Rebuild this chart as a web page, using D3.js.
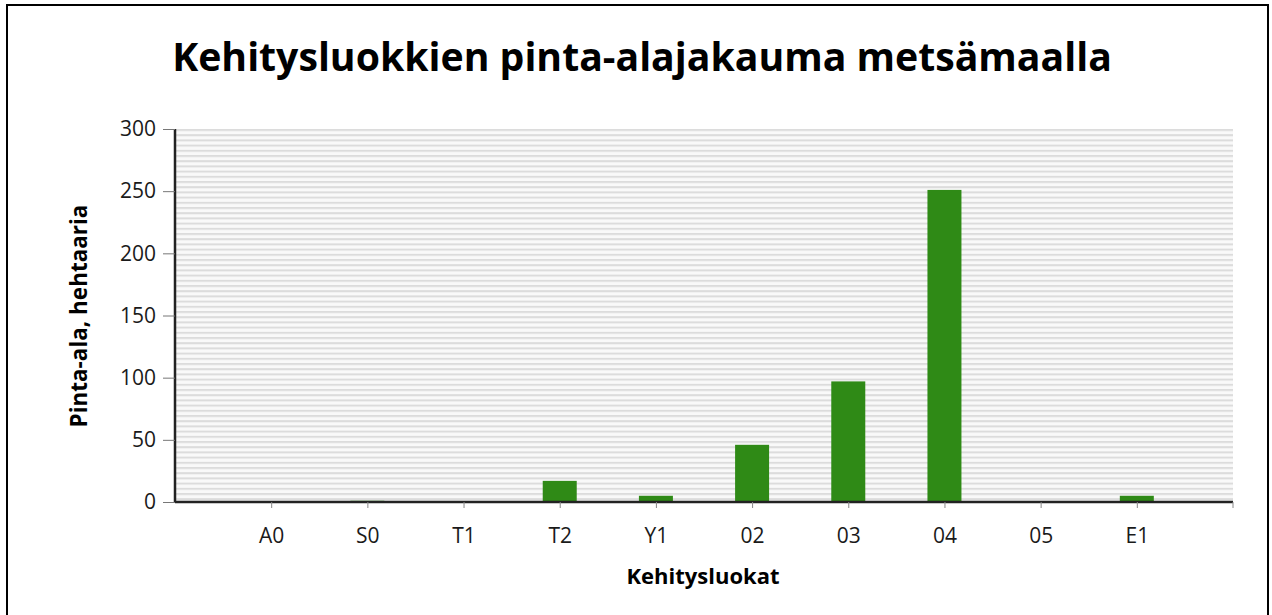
<!DOCTYPE html>
<html><head><meta charset="utf-8">
<script src="https://cdn.jsdelivr.net/npm/d3@7"></script>
<style>body{margin:0;background:#fff;}svg{display:block;}</style>
</head><body>
<script>
const categories = ["A0","S0","T1","T2","Y1","02","03","04","05","E1"];
const values = [0, 1, 0, 17, 5, 46, 97, 251, 0, 5];
const yTicks = [0, 50, 100, 150, 200, 250, 300];
const titleText = "Kehitysluokkien pinta-alajakauma metsämaalla";
const xTitle = "Kehitysluokat";
const yTitle = "Pinta-ala, hehtaaria";

(function(){
const W = 1272, H = 615;
const pLeft = 175, pRight = 1233, pTop = 129, pBottom = 502;
const font = "'Open Sans', 'DejaVu Sans', sans-serif";

const svg = d3.select("body").append("svg").attr("width", W).attr("height", H);

const defs = svg.append("defs");
const pat = defs.append("pattern").attr("id","stripes").attr("patternUnits","userSpaceOnUse")
  .attr("width", 10).attr("height", 5.2).attr("y", pTop);
pat.append("rect").attr("width",10).attr("height",5.2).attr("fill","#f9f9f9");
pat.append("rect").attr("y",0).attr("width",10).attr("height",2).attr("fill","#dcdcdc");

svg.append("rect").attr("x",7).attr("y",5).attr("width",1261).attr("height",620)
  .attr("fill","none").attr("stroke","#000").attr("stroke-width",2);

const x = d3.scalePoint().domain(categories).range([pLeft, pRight]).padding(1);
const y = d3.scaleLinear().domain([0, 300]).range([pBottom, pTop]);

svg.append("rect").attr("x", pLeft).attr("y", pTop).attr("width", pRight-pLeft).attr("height", pBottom-pTop)
  .attr("fill","url(#stripes)");

const barW = 34;
svg.append("g").selectAll("rect").data(categories).join("rect")
  .attr("x", d => x(d) - barW/2)
  .attr("y", (d,i) => y(values[i]))
  .attr("width", barW)
  .attr("height", (d,i) => y(0) - y(values[i]))
  .attr("fill", "#2f8a16");

// Y axis
const yAxis = svg.append("g").attr("transform", `translate(${pLeft},0)`)
  .call(d3.axisLeft(y).tickValues(yTicks).tickSize(12).tickPadding(7));
yAxis.select(".domain").attr("stroke","#222").attr("stroke-width",2.5).attr("d", `M0,${pTop}V${pBottom}`);
yAxis.selectAll(".tick line").attr("stroke","#777").attr("stroke-width",1);
yAxis.selectAll(".tick text").attr("font-family", font).attr("font-size", 21).attr("fill","#1a1a1a");

// X axis
const xAxis = svg.append("g").attr("transform", `translate(0,${pBottom})`)
  .call(d3.axisBottom(x).tickSize(6).tickPadding(20));
xAxis.select(".domain").attr("stroke","#222").attr("stroke-width",2.5).attr("d", `M${pLeft},0H${pRight}`);
xAxis.selectAll(".tick line").attr("stroke","#888");
xAxis.selectAll(".tick text").attr("font-family", font).attr("font-size", 21).attr("fill","#1a1a1a");
xAxis.append("line").attr("x1", pRight).attr("x2", pRight).attr("y1", 0).attr("y2", 6).attr("stroke","#888");

// Title
const t = svg.append("text").attr("x", 642).attr("y", 71).attr("text-anchor","middle")
  .attr("font-family", font).attr("font-weight","bold").attr("font-size", 38).attr("fill","#000")
  .text(titleText);
const tw = t.node().getComputedTextLength();
t.attr("font-size", 38 * 940 / tw);

// Axis titles
const xt = svg.append("text").attr("x", 703).attr("y", 584).attr("text-anchor","middle")
  .attr("font-family", font).attr("font-weight","bold").attr("font-size", 18).attr("fill","#000")
  .text(xTitle);
const xtw = xt.node().getComputedTextLength();
xt.attr("font-size", 18 * 153 / xtw);

const yt = svg.append("text").attr("transform", "translate(87,316) rotate(-90)").attr("text-anchor","middle")
  .attr("font-family", font).attr("font-weight","bold").attr("font-size", 18).attr("fill","#000")
  .text(yTitle);
const ytw = yt.node().getComputedTextLength();
yt.attr("font-size", 18 * 223 / ytw);
})();
</script>
</body></html>
